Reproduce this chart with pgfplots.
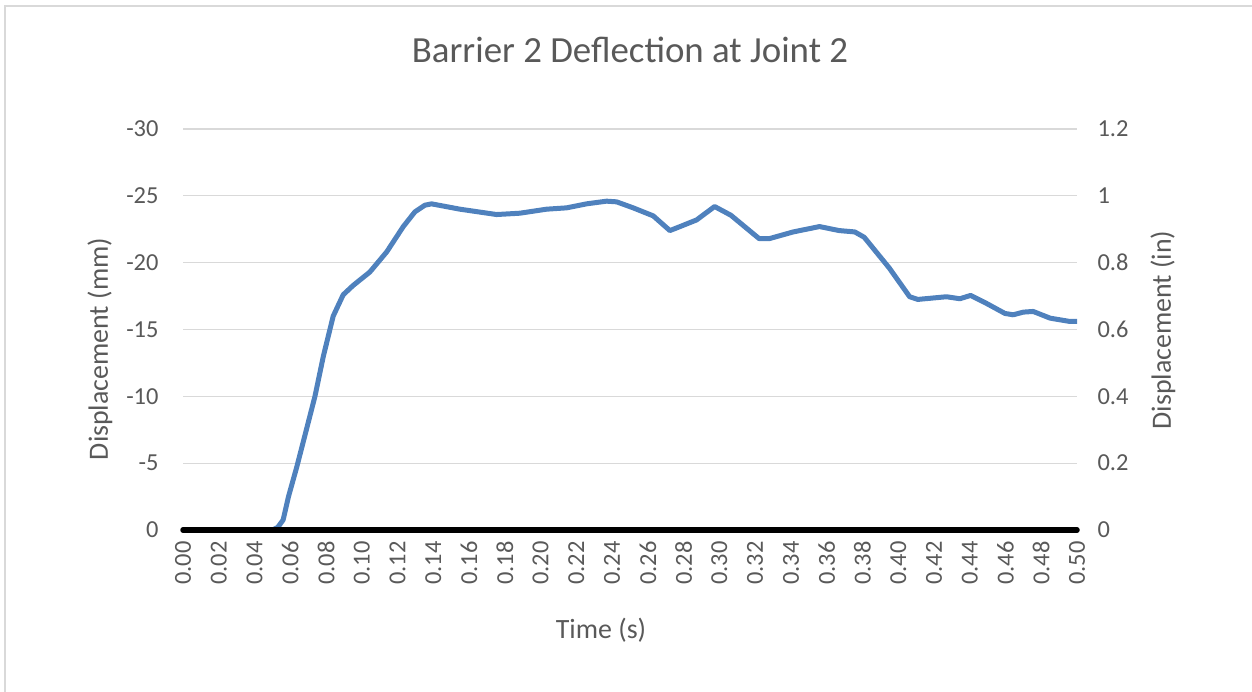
\documentclass[border=0pt]{standalone}
\usepackage{pgfplots}
\pgfplotsset{compat=1.18}
\usepackage{fontspec}
\setmainfont{Carlito}
\definecolor{txt}{HTML}{595959}
\definecolor{gridc}{HTML}{D9D9D9}
\definecolor{ser}{HTML}{4F81BD}
\begin{document}
\begin{tikzpicture}[x=1bp,y=1bp]
\path[use as bounding box] (0,0) rectangle (1252,692);
\draw[gridc, line width=1.2bp] (5,0) -- (5,686) -- (1252,686);
\node[txt, font=\fontsize{37}{44}\selectfont] at (630,642) {Barrier 2 Deflection at Joint 2};
\node[txt, font=\fontsize{28}{34}\selectfont] at (601,62) {Time (s)};
\node[txt, font=\fontsize{28}{34}\selectfont, rotate=90] at (100,343) {Displacement (mm)};
\node[txt, font=\fontsize{28}{34}\selectfont, rotate=90] at (1163,362) {Displacement (in)};
\begin{axis}[
  at={(183bp,162bp)}, anchor=south west,
  width=894bp, height=401bp, scale only axis,
  xmin=0, xmax=0.5, ymin=-30, ymax=0, y dir=reverse,
  axis line style={draw=none},
  major tick length=0pt,
  ymajorgrids, grid style={gridc, line width=1.2bp},
  ytick={-30,-25,-20,-15,-10,-5,0},
  yticklabels={-30,-25,-20,-15,-10,-5,0},
  xtick={0,0.02,0.04,0.06,0.08,0.10,0.12,0.14,0.16,0.18,0.20,0.22,0.24,0.26,0.28,0.30,0.32,0.34,0.36,0.38,0.40,0.42,0.44,0.46,0.48,0.50},
  xticklabels={0.00,0.02,0.04,0.06,0.08,0.10,0.12,0.14,0.16,0.18,0.20,0.22,0.24,0.26,0.28,0.30,0.32,0.34,0.36,0.38,0.40,0.42,0.44,0.46,0.48,0.50},
  tick label style={txt, font=\fontsize{24.5}{28}\selectfont},
  yticklabel style={anchor=east, xshift=-21bp},
  xticklabel style={rotate=90, anchor=east, xshift=-8bp},
  clip=false,
]
\addplot[ser, line width=5bp, line join=round] coordinates {
(0,0) (0.05,0) (0.053,-0.2) (0.056,-0.75) (0.059,-2.5) (0.0636,-4.7) (0.069,-7.5) (0.0738,-10) (0.0785,-13) (0.084,-16) (0.0896,-17.6) (0.0952,-18.3) (0.1045,-19.3) (0.1139,-20.8) (0.1232,-22.7) (0.1297,-23.8) (0.1353,-24.3) (0.139,-24.4) (0.1549,-24.0) (0.1754,-23.6) (0.1884,-23.7) (0.2033,-24.0) (0.2145,-24.1) (0.2257,-24.4) (0.2369,-24.6) (0.2425,-24.55) (0.2518,-24.1) (0.263,-23.5) (0.2668,-23.05) (0.2723,-22.4) (0.278,-22.7) (0.2873,-23.2) (0.2973,-24.2) (0.3064,-23.55) (0.3222,-21.8) (0.328,-21.8) (0.3413,-22.3) (0.356,-22.7) (0.367,-22.4) (0.3757,-22.3) (0.381,-21.9) (0.395,-19.6) (0.4064,-17.45) (0.411,-17.25) (0.427,-17.45) (0.4345,-17.3) (0.4405,-17.55) (0.4494,-16.95) (0.4597,-16.2) (0.4643,-16.1) (0.47,-16.3) (0.4755,-16.35) (0.4849,-15.85) (0.496,-15.6) (0.5,-15.6)
};
\addplot[black, line width=5.5bp, line cap=round] coordinates {(0,0) (0.5,0)};
\end{axis}
\begin{axis}[
  at={(183bp,162bp)}, anchor=south west,
  width=894bp, height=401bp, scale only axis,
  xmin=0, xmax=0.5, ymin=0, ymax=1.2,
  axis x line=none, axis y line*=right,
  axis line style={draw=none},
  major tick length=0pt,
  ytick={0,0.2,0.4,0.6,0.8,1,1.2},
  yticklabels={0,0.2,0.4,0.6,0.8,1,1.2},
  tick label style={txt, font=\fontsize{24.5}{28}\selectfont},
  yticklabel style={anchor=west, xshift=17bp},
]
\addplot[draw=none] coordinates {(0,0)};
\end{axis}
\end{tikzpicture}
\end{document}
